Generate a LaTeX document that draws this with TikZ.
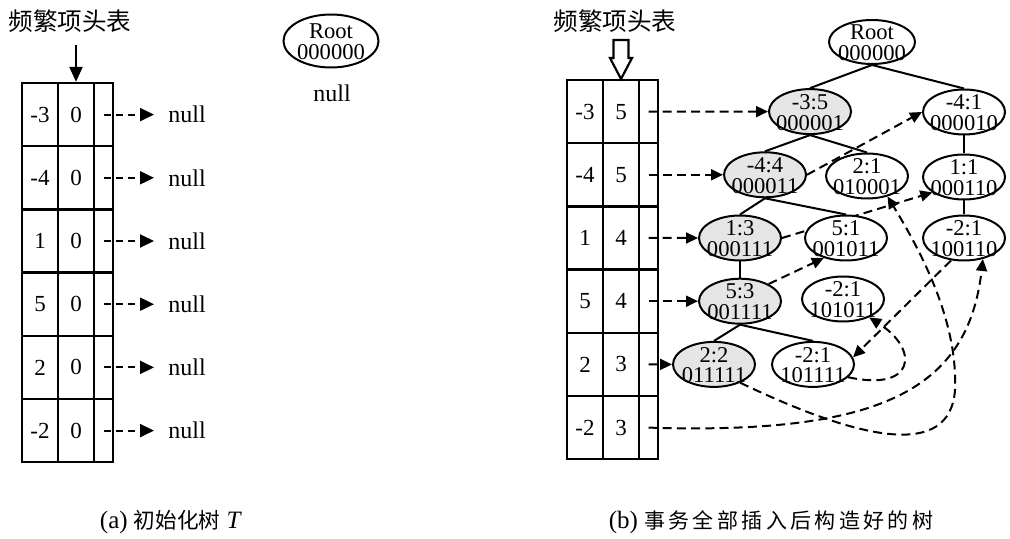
\documentclass[tikz,border=0pt]{standalone}
\usepackage{fontspec}
\setmainfont{Liberation Serif}
\newfontfamily\cjk{Noto Sans CJK SC}
\newfontfamily\cjksp[LetterSpace=16]{Noto Sans CJK SC}
\usetikzlibrary{arrows.meta,shapes.geometric}
\pgfdeclarelayer{bg}
\pgfsetlayers{bg,main}
\newcommand\twol[2]{\makebox[0pt]{\smash{\raisebox{-4.5pt}{\begin{tabular}[c]{@{}c@{}}#1\\#2\end{tabular}}}}}
\begin{document}
\begin{tikzpicture}[x=0.5pt,y=-0.5pt,
 cell/.style={draw,line width=1.15pt,rectangle,inner sep=0pt,minimum height=31.6pt,font=\fontsize{11.5}{13}\selectfont},
 wcol/.style={cell,minimum width=18pt},
 pcol/.style={cell,minimum width=9.5pt},
 tn/.style={draw,ellipse,line width=1pt,fill=white,inner sep=0pt,minimum width=41pt,minimum height=22.5pt,font=\fontsize{11.3}{9.5}\selectfont},
 hl/.style={tn,fill=gray!20},
 lk/.style={dash pattern=on 4.5pt off 2.6pt,line width=1pt,-{Triangle[length=6pt,width=5.5pt]}},
 lks/.style={dash pattern=on 3.5pt off 2.5pt,line width=1pt,-{Triangle[length=7pt,width=6.5pt]}},
 ed/.style={line width=1pt},
 nul/.style={inner sep=0pt,font=\fontsize{12}{14}\selectfont},
 ttl/.style={font=\cjk\fontsize{12.3}{14}\selectfont},
]
\useasboundingbox (0,0) rectangle (1010,539);

% ---------- (a) ----------
\node[ttl] (T1) at (70,21) {频繁项头表};
\foreach \v/\c [count=\i] in {-3/0,-4/0,1/0,5/0,2/0,-2/0}{
  \node[wcol] (La\i) at (40,{83+63.2*(\i-0.5)}) {\v};
  \node[wcol] (Lb\i) at (76,{83+63.2*(\i-0.5)}) {\c};
  \node[pcol] (Lc\i) at (103.5,{83+63.2*(\i-0.5)}) {};
  \node[nul,anchor=west] (N\i) at (168,{83+63.2*(\i-0.5)}) {null};
  \draw[lks,shorten >=7pt] (Lc\i.center) -- (N\i.west);
}
\coordinate (la) at (76,45);
\draw[line width=1.1pt,-{Triangle[length=7.5pt,width=6.5pt]}] (la) -- (Lb1.north);
\node[tn,minimum width=47.5pt,minimum height=26.5pt] (LR) at (331,41) {\twol{Root}{000000}};
\node[nul] (LN) at (332,93) {null};
\node[font=\fontsize{12.5}{14}\selectfont] (capa) at (171,522) {(a) {\cjk\fontsize{10.8}{12}\selectfont 初始化树} \textit{T}};

% ---------- (b) ----------
\node[ttl] (T2) at (615,21) {频繁项头表};
\draw[line width=1.1pt] (613.5,40) -- (628.5,40) -- (628.5,58) -- (632,58) -- (621,79) -- (610,58) -- (613.5,58) -- cycle;
\foreach \v/\c [count=\i] in {-3/5,-4/5,1/4,5/4,2/3,-2/3}{
  \node[wcol] (Ra\i) at (585,{80+63.2*(\i-0.5)}) {\v};
  \node[wcol] (Rb\i) at (621,{80+63.2*(\i-0.5)}) {\c};
  \node[pcol] (Rc\i) at (648.5,{80+63.2*(\i-0.5)}) {};
}
\node[tn,minimum width=43pt,minimum height=22pt] (R) at (872,42) {\twol{Root}{000000}};
\node[hl] (A) at (810,111.6) {\twol{-3:5}{000001}};
\node[tn] (B) at (964,112) {\twol{-4:1}{000010}};
\node[hl] (C) at (765,174.8) {\twol{-4:4}{000011}};
\node[tn] (D) at (867,176) {\twol{2:1}{010001}};
\node[tn] (E) at (964,177) {\twol{1:1}{000110}};
\node[hl] (F) at (740,238) {\twol{1:3}{000111}};
\node[tn] (G) at (846,238) {\twol{5:1}{001011}};
\node[tn] (H) at (964,238) {\twol{-2:1}{100110}};
\node[hl] (I) at (740,301.2) {\twol{5:3}{001111}};
\node[tn] (J) at (843,299) {\twol{-2:1}{101011}};
\node[hl] (K) at (714,364.4) {\twol{2:2}{011111}};
\node[tn] (L) at (813,364.4) {\twol{-2:1}{101111}};

\begin{pgfonlayer}{bg}
  \draw[ed] (R.south) -- (A.north);
  \draw[ed] (R.south) -- (B.north);
  \draw[ed] (A.south) -- (C.north);
  \draw[ed] (A.south) -- (D.north);
  \draw[ed] (C.south) -- (F.north);
  \draw[ed] (C.south) -- (G.north);
  \draw[ed] (B.south) -- (E.north);
  \draw[ed] (E.south) -- (H.north);
  \draw[ed] (F.south) -- (I.north);
  \draw[ed] (I.south) -- (K.north);
  \draw[ed] (I.south) -- (L.north);
  \foreach \i/\n in {1/A,2/C,3/F,4/I,5/K}{
    \draw[lk] (Rc\i.center) -- (\n.west);
  }
  \draw[lk] (Rc6.center) .. controls (880,435) and (968,390) .. (H.-48);
  \draw[lk] (C.east) -- (B.west);
  \draw[lk] (F.east) -- (E.206);
  \draw[lk] (I.31) -- (G.222);
  \draw[lk] (K.-35) .. controls (860,440) and (950,460) .. (955,390) .. controls (958,320) and (920,250) .. (D.-45);
  \draw[lk] (H.-120) -- (L.10);
  \draw[lk] (L.-20) .. controls (915,392) and (920,350) .. (J.-35);
\end{pgfonlayer}

\node[font=\fontsize{12.5}{14}\selectfont] (capb) at (771,522) {(b) {\cjksp\fontsize{10.5}{12}\selectfont 事务全部插入后构造好的树}};
\end{tikzpicture}
\end{document}
